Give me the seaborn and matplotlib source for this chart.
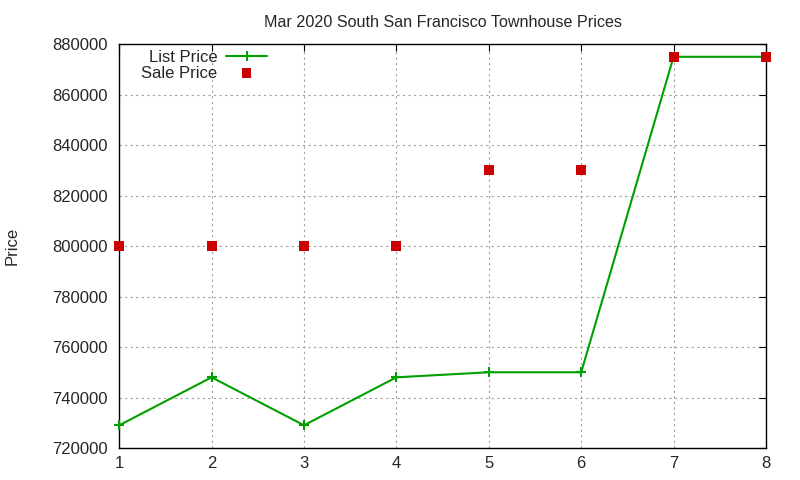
import numpy as np
import pandas as pd
import matplotlib
matplotlib.use('Agg')
from matplotlib import pyplot as plt
import seaborn as sns

# data
sales = [1, 2, 3, 4, 5, 6, 7, 8]
list_price = [729000, 748000, 729000, 748000, 750000, 750000, 875000, 875000]
sale_price = [800000, 800000, 800000, 800000, 830000, 830000, 875000, 875000]

df = pd.DataFrame({'n': sales, 'list': list_price, 'sale': sale_price})

sns.set_style('white')
plt.rcParams['font.family'] = ['Liberation Sans', 'DejaVu Sans']
plt.rcParams['font.size'] = 12

fig = plt.figure(figsize=(8, 4.8), dpi=100)
ax = fig.add_axes([0.149, 0.0667, 0.8085, 0.8413])

green = '#00a000'
sns.lineplot(data=df, x='n', y='list', ax=ax, color=green, marker='+',
             markersize=7, markeredgewidth=1.5, markeredgecolor=green,
             linewidth=1.5, label='List Price', clip_on=False, zorder=4)
sns.scatterplot(data=df, x='n', y='sale', ax=ax, color='#cc0000', marker='s',
                s=50, edgecolor='none', label='Sale Price', zorder=5, clip_on=False)

ax.set_xlim(1, 8)
ax.set_ylim(720000, 880000)
ax.set_xticks(sales)
ax.set_yticks(np.arange(720000, 880001, 20000))
ax.ticklabel_format(style='plain', axis='y', useOffset=False)
ax.grid(True, color='#a0a0a0', linestyle=(0, (2, 3)), linewidth=0.8)
ax.tick_params(direction='in', length=5, color='black', top=True, right=True,
               labelsize=12)
ax.tick_params(axis='y', pad=8)
ax.tick_params(axis='x', pad=6)
for s in ax.spines.values():
    s.set_color('black')
    s.set_linewidth(1)

ax.set_xlabel('')
ax.set_ylabel('Price', fontsize=12, labelpad=24)
ax.set_title('Mar 2020 South San Francisco Townhouse Prices', fontsize=11.6, pad=12)

leg = ax.legend(loc='upper left', bbox_to_anchor=(0.016, 1.015), frameon=False,
                markerfirst=False, handlelength=2.5, handletextpad=0.5,
                labelspacing=0.05, borderaxespad=0.3, fontsize=12)
for t in leg.get_texts():
    t.set_ha('right')
leg._legend_box.align = 'right'

fig.savefig('out.png')
